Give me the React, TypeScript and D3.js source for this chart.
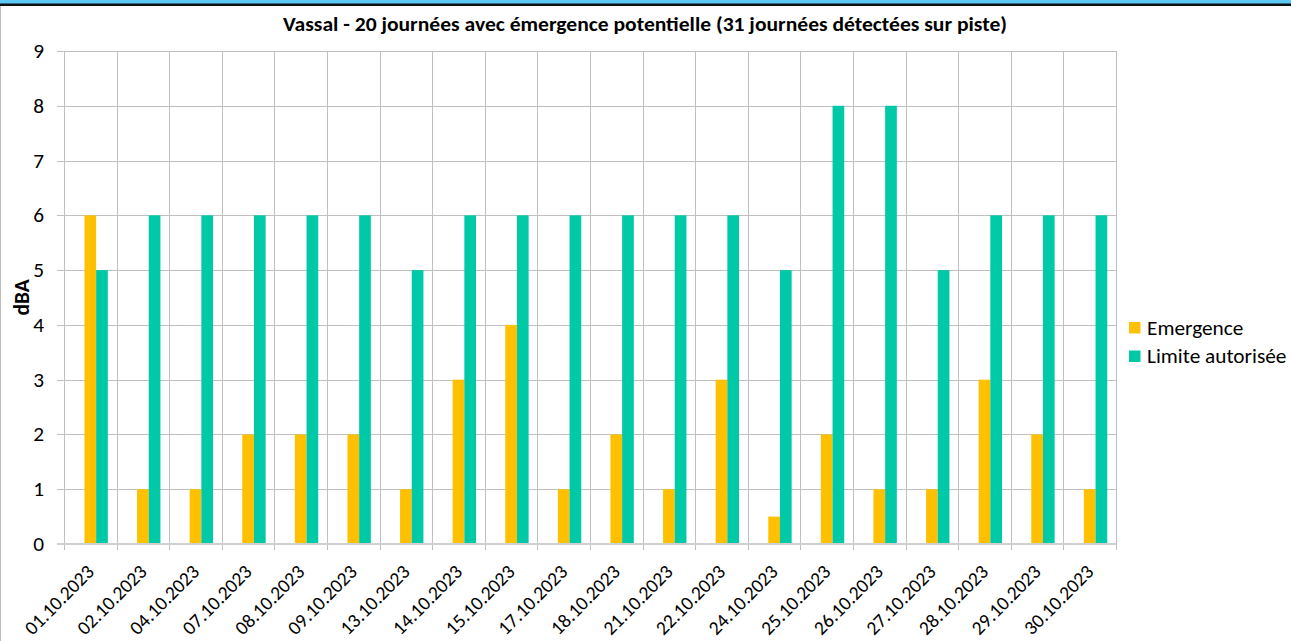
import React, { useEffect, useRef } from "react";
import * as d3 from "d3";

const dates = [
  "01.10.2023", "02.10.2023", "04.10.2023", "07.10.2023", "08.10.2023",
  "09.10.2023", "13.10.2023", "14.10.2023", "15.10.2023", "17.10.2023",
  "18.10.2023", "21.10.2023", "22.10.2023", "24.10.2023", "25.10.2023",
  "26.10.2023", "27.10.2023", "28.10.2023", "29.10.2023", "30.10.2023",
];
const emergence = [6, 1, 1, 2, 2, 2, 1, 3, 4, 1, 2, 1, 3, 0.5, 2, 1, 1, 3, 2, 1];
const limite = [5, 6, 6, 6, 6, 6, 5, 6, 6, 6, 6, 6, 6, 5, 8, 8, 5, 6, 6, 6];
const yTicks = [0, 1, 2, 3, 4, 5, 6, 7, 8, 9];
// the source chart reserves a first (empty) series slot, so bars sit right of centre
const slots = ["vide", "Emergence", "Limite autorisée"];
const seriesNames = ["Emergence", "Limite autorisée"];
const seriesValues = [emergence, limite];
const colors = ["#FFC000", "#00C9A7"];

const title =
  "Vassal - 20 journées avec émergence potentielle (31 journées détectées sur piste)";

function Chart() {
  const svgRef = useRef<SVGSVGElement>(null);

  useEffect(() => {
    const svg = d3.select(svgRef.current);
    svg.selectAll("*").remove();
    const width = 1291;
    const height = 641;
    const margin = { top: 51, right: 175, bottom: 97, left: 64 };
    const font = "Carlito, Calibri, 'Liberation Sans', sans-serif";
    const fontSize = 21.3;

    // frame
    svg.append("rect").attr("width", width).attr("height", height).attr("fill", "#fff");
    svg.append("rect").attr("x", 0).attr("y", 0).attr("width", width).attr("height", 4).attr("fill", "#5BC8F5");
    svg.append("rect").attr("x", 0).attr("y", 3.5).attr("width", width).attr("height", 2.5).attr("fill", "#111");
    svg.append("line").attr("x1", 0.5).attr("x2", 0.5).attr("y1", 6).attr("y2", height)
      .attr("stroke", "#bfbfbf");

    const x0 = d3
      .scaleBand<string>()
      .domain(dates)
      .range([margin.left, width - margin.right])
      .paddingInner(1 / 3)
      .paddingOuter(1 / 6);
    const x1 = d3.scaleBand<string>().domain(slots).range([0, x0.bandwidth()]);
    const yScale = d3
      .scaleLinear()
      .domain([0, 9])
      .range([height - margin.bottom, margin.top]);
    const step = x0.step();
    const left = margin.left;
    const right = width - margin.right;

    // horizontal gridlines + left ticks
    svg
      .append("g")
      .selectAll("line")
      .data(yTicks.filter((d) => d > 0))
      .join("line")
      .attr("x1", left - 7)
      .attr("x2", right)
      .attr("y1", (d) => Math.round(yScale(d)) + 0.5)
      .attr("y2", (d) => Math.round(yScale(d)) + 0.5)
      .attr("stroke", "#c0c0c0");

    // vertical gridlines at category boundaries
    const bounds = d3.range(dates.length + 1).map((i) => left + i * step);
    svg
      .append("g")
      .selectAll("line")
      .data(bounds)
      .join("line")
      .attr("x1", (d) => Math.round(d) + 0.5)
      .attr("x2", (d) => Math.round(d) + 0.5)
      .attr("y1", margin.top)
      .attr("y2", yScale(0) + 6)
      .attr("stroke", "#c0c0c0");

    // y tick labels
    svg
      .append("g")
      .selectAll("text")
      .data(yTicks)
      .join("text")
      .attr("x", 44)
      .attr("y", (d) => yScale(d))
      .attr("dy", "0.33em")
      .attr("text-anchor", "end")
      .attr("font-family", font)
      .attr("font-size", fontSize)
      .attr("fill", "#000")
      .text((d) => d);

    // bars
    seriesNames.forEach((name, s) => {
      svg
        .append("g")
        .attr("fill", colors[s])
        .selectAll("rect")
        .data(seriesValues[s])
        .join("rect")
        .attr("x", (d, i) => (x0(dates[i]) as number) + (x1(name) as number))
        .attr("y", (d) => yScale(d))
        .attr("width", x1.bandwidth())
        .attr("height", (d) => yScale(0) - yScale(d));
    });

    // x axis line
    svg
      .append("line")
      .attr("x1", left - 7)
      .attr("x2", right)
      .attr("y1", yScale(0))
      .attr("y2", yScale(0))
      .attr("stroke", "#d0d0d0")
      .attr("stroke-width", 2);

    // x tick labels
    svg
      .append("g")
      .selectAll("text")
      .data(dates)
      .join("text")
      .attr(
        "transform",
        (d) => `translate(${(x0(d) as number) + x0.bandwidth() / 2 + 5},573) rotate(-45)`
      )
      .attr("text-anchor", "end")
      .attr("font-family", font)
      .attr("font-size", 19.5)
      .attr("fill", "#000")
      .text((d) => d);

    // title
    svg
      .append("text")
      .attr("x", 645)
      .attr("y", 31)
      .attr("text-anchor", "middle")
      .attr("font-family", font)
      .attr("font-weight", "bold")
      .attr("font-size", 20)
      .attr("textLength", 724)
      .attr("lengthAdjust", "spacingAndGlyphs")
      .text(title);

    // y axis label
    svg
      .append("text")
      .attr("transform", `translate(29,${(yScale(0) + yScale(9)) / 2}) rotate(-90)`)
      .attr("text-anchor", "middle")
      .attr("font-family", font)
      .attr("font-weight", "bold")
      .attr("font-size", fontSize)
      .text("dBA");

    // legend
    const legend = svg
      .append("g")
      .selectAll("g")
      .data(seriesNames)
      .join("g")
      .attr("transform", (d, i) => `translate(1129,${322 + i * 28.5})`);
    legend
      .append("rect")
      .attr("width", 11.5)
      .attr("height", 11.5)
      .attr("fill", (d, i) => colors[i]);
    legend
      .append("text")
      .attr("x", 18)
      .attr("y", 12.5)
      .attr("font-family", font)
      .attr("font-size", fontSize)
      .attr("fill", "#000")
      .text((d) => d);
  }, []);

  return (
    <svg
      ref={svgRef}
      width={1291}
      height={641}
      style={{ position: "absolute", left: 0, top: 0 }}
    ></svg>
  );
}

export default function App() {
  return <Chart />;
}
